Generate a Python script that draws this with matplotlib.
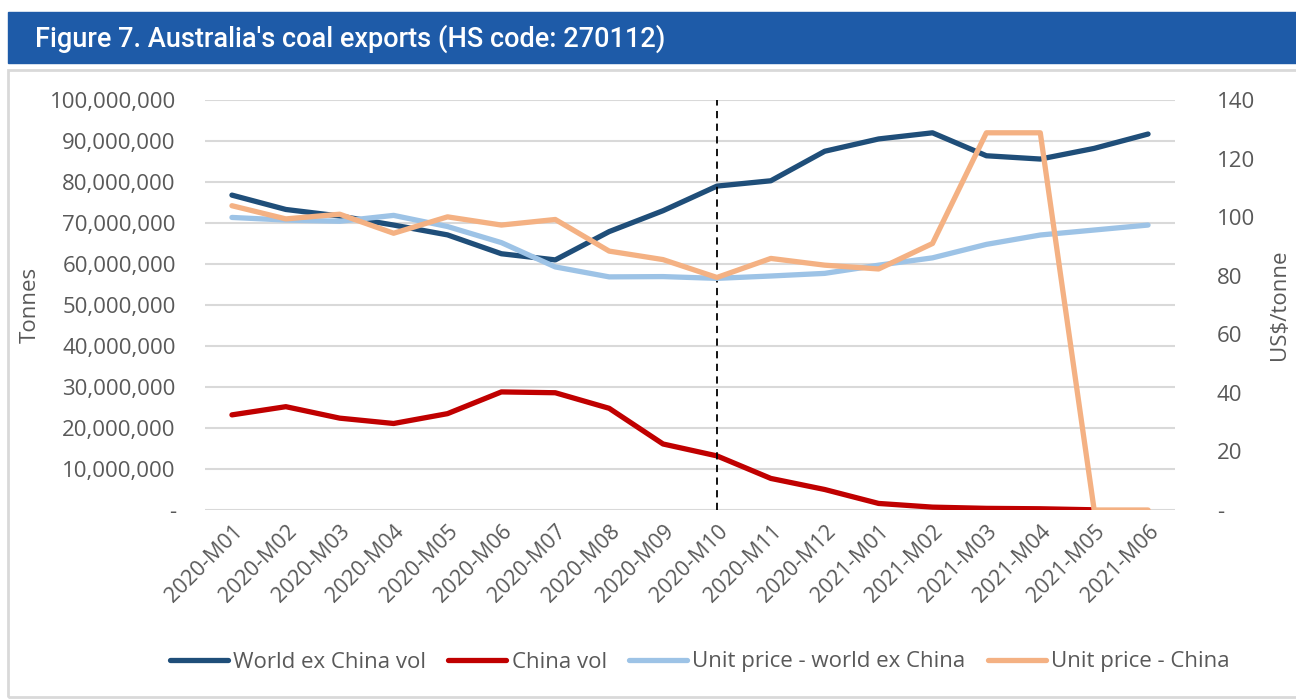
import numpy as np
import matplotlib
matplotlib.use("Agg")
from matplotlib import pyplot as plt
from matplotlib.ticker import FuncFormatter, MultipleLocator
from matplotlib.patches import Rectangle

# Mesečni podatki o izvozu premoga
meseci = ['2020-M01', '2020-M02', '2020-M03', '2020-M04', '2020-M05', '2020-M06',
          '2020-M07', '2020-M08', '2020-M09', '2020-M10', '2020-M11', '2020-M12',
          '2021-M01', '2021-M02', '2021-M03', '2021-M04', '2021-M05', '2021-M06']

# Količine v tonah
svet_brez_kitajske = [76.8e6, 73.3e6, 71.7e6, 69.5e6, 67.1e6, 62.5e6, 61.0e6, 67.9e6, 73.0e6,
                      79.0e6, 80.3e6, 87.5e6, 90.5e6, 92.0e6, 86.4e6, 85.6e6, 88.2e6, 91.7e6]
kitajska = [23.2e6, 25.2e6, 22.4e6, 21.1e6, 23.5e6, 28.8e6, 28.6e6, 24.8e6, 16.1e6,
            13.2e6, 7.7e6, 5.0e6, 1.6e6, 0.7e6, 0.4e6, 0.3e6, 0.05e6, np.nan]

# Cene v US$/tono
cena_svet = [99.9, 99.0, 98.6, 100.6, 96.8, 91.3, 83.0, 79.6, 79.7,
             79.1, 79.9, 80.8, 83.6, 86.1, 90.7, 93.9, 95.6, 97.3]
cena_kitajska = [103.9, 99.4, 101.0, 94.5, 100.1, 97.3, 99.2, 88.4, 85.5,
                 79.4, 85.9, 83.6, 82.3, 91.0, 128.8, 128.8, 0, 0]

modra = '#1F4E79'
rdeca = '#C00000'
svetlo_modra = '#9DC3E6'
oranzna = '#F4B183'
siva = '#595959'

plt.rcParams['font.family'] = ['Open Sans', 'DejaVu Sans']

fig = plt.figure(figsize=(12.96, 7.0), dpi=100)

# Modra pasica z naslovom in okvir grafa
fig.patches.append(Rectangle((8 / 1296, 1 - 63 / 700), 1, 51 / 700,
                             transform=fig.transFigure, color='#1E5BA8', zorder=0))
fig.patches.append(Rectangle((8 / 1296, 0.004), 1.2, 1 - 70 / 700 - 0.004,
                             transform=fig.transFigure, fill=False,
                             edgecolor='#D9D9D9', linewidth=2, zorder=0))
fig.text(35 / 1296, 1 - 39 / 700, "Figure 7. Australia's coal exports (HS code: 270112)",
         color='white', fontsize=19.5, fontweight=500, va='center', ha='left',
         family=['Roboto', 'DejaVu Sans'])

ax1 = fig.add_axes([205 / 1296, 1 - 510 / 700, 970 / 1296, 410 / 700])
x = np.arange(len(meseci))

ax1.plot(x, svet_brez_kitajske, color=modra, linewidth=3.8, solid_capstyle='round',
         label='World ex China vol', zorder=3)
ax1.plot(x, kitajska, color=rdeca, linewidth=3.8, solid_capstyle='round',
         label='China vol', zorder=3)
ax1.axvline(9, color='black', linewidth=1.3, linestyle=(0, (4, 3)), zorder=4)

ax1.set_ylim(0, 100e6)
ax1.set_xlim(-0.5, len(meseci) - 0.5)
ax1.yaxis.set_major_locator(MultipleLocator(10e6))
ax1.yaxis.set_major_formatter(FuncFormatter(lambda v, p: '-' if v == 0 else f'{v:,.0f}'))
ax1.grid(axis='y', color='#D9D9D9', linewidth=1.5)
ax1.set_axisbelow(True)
ax1.set_xticks(x)
ax1.set_xticklabels(meseci, rotation=45, ha='right', rotation_mode='anchor')
ax1.tick_params(axis='both', length=0, labelsize=15.5, colors=siva)
ax1.tick_params(axis='x', pad=8)
ax1.tick_params(axis='y', labelsize=16, pad=21)
ax1.set_ylabel('Tonnes', fontsize=16, color=siva, labelpad=6)

ax2 = ax1.twinx()
ax2.plot(x, cena_svet, color=svetlo_modra, linewidth=3.8, solid_capstyle='round',
         label='Unit price - world ex China')
ax2.plot(x, cena_kitajska, color=oranzna, linewidth=3.8, solid_capstyle='round',
         label='Unit price - China')
ax2.set_ylim(0, 140)
ax2.yaxis.set_major_locator(MultipleLocator(20))
ax2.yaxis.set_major_formatter(FuncFormatter(lambda v, p: '-' if v == 0 else f'{v:.0f}'))
ax2.tick_params(axis='y', length=0, labelsize=16, colors=siva, pad=30)
ax2.set_ylabel('US$/tonne', fontsize=16, color=siva, rotation=90, labelpad=10)

for ax in (ax1, ax2):
    for s in ax.spines.values():
        s.set_visible(False)

# Skupna legenda spodaj
h1, l1 = ax1.get_legend_handles_labels()
h2, l2 = ax2.get_legend_handles_labels()
fig.legend(h1 + h2, l1 + l2, loc='center', bbox_to_anchor=(0.54, 1 - 662 / 700),
           ncol=4, frameon=False, fontsize=16, handlelength=2.6, handletextpad=0.25,
           columnspacing=1.0, labelcolor=siva)

plt.savefig('out.png', dpi=100)
